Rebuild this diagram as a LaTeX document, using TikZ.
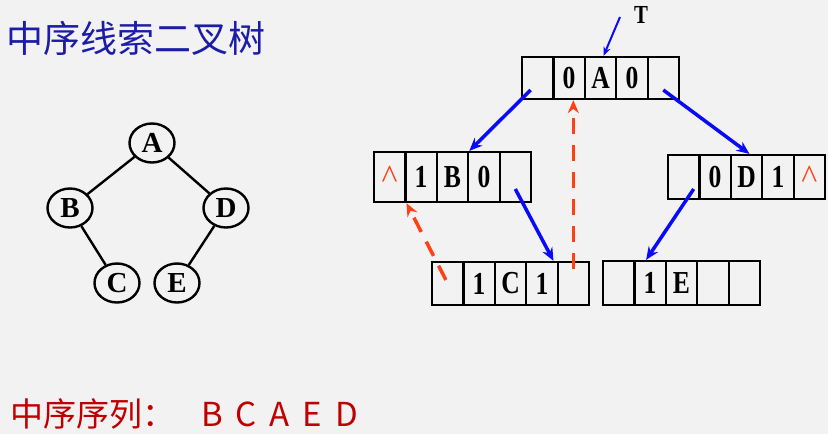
\documentclass[tikz,border=0pt]{standalone}
\usepackage{fontspec}
\setmainfont{Liberation Serif}
\newfontfamily\cjk{Noto Sans CJK SC}
\newfontfamily\cellfont[FakeStretch=0.8]{Liberation Serif Bold}
\usetikzlibrary{shapes.geometric,arrows.meta}
\definecolor{titleblue}{RGB}{28,28,168}
\definecolor{seqred}{RGB}{192,0,0}
\definecolor{linkblue}{RGB}{10,10,250}
\definecolor{threadred}{RGB}{255,64,20}

\begin{document}
\begin{tikzpicture}[x=1pt,y=-1pt,>={Stealth[length=13pt,width=11pt]},
    tnode/.style={draw,ellipse,line width=2.4pt,minimum width=45pt,minimum height=39pt,inner sep=0pt,font=\bfseries\fontsize{29}{29}\selectfont},
    cell/.style={draw,rectangle,line width=2.2pt,minimum width=31.4pt,minimum height=42pt,inner sep=0pt,font=\cellfont\fontsize{32}{32}\selectfont},
    link/.style={->,color=linkblue,line width=3.5pt},
    thread/.style={->,color=threadred,line width=3.5pt,dash pattern=on 16pt off 11pt}]
    \fill[black!5] (0,0) rectangle (828,434);
    \useasboundingbox (0,0) rectangle (828,434);

    \node[anchor=west,inner sep=0pt,text=titleblue,font=\cjk\fontsize{37}{37}\selectfont] (title) at (6,38.5) {中序线索二叉树};
    \node[anchor=west,inner sep=0pt,text=seqred,font=\cjk\fontsize{33}{33}\selectfont] (seq) at (10,414) {\spaceskip=13pt 中序序列：\ \ B C A E D};

    \node[tnode] (a) at (152,143) {A};
    \node[tnode] (b) at (70,208) {B};
    \node[tnode] (d) at (226,208) {D};
    \node[tnode] (c) at (117,283) {C};
    \node[tnode] (e) at (177,283) {E};
    \draw[line width=2.4pt] (a) -- (b);
    \draw[line width=2.4pt] (a) -- (d);
    \draw[line width=2.4pt] (b) -- (c);
    \draw[line width=2.4pt] (d) -- (e);

    \node[font=\cellfont\fontsize{26}{26}\selectfont] (T) at (641,15) {T};

    \node[cell] (A1) at (537.7,78) {};
    \node[cell] (A2) at (569.1,78) {0};
    \node[cell] (A3) at (600.5,78) {A};
    \node[cell] (A4) at (631.9,78) {0};
    \node[cell] (A5) at (663.3,78) {};

    \node[cell,minimum height=50pt] (B1) at (389.7,177) {\normalfont\fontsize{34}{34}\selectfont\color{threadred}\textasciicircum};
    \node[cell,minimum height=50pt] (B2) at (421.1,177) {1};
    \node[cell,minimum height=50pt] (B3) at (452.5,177) {B};
    \node[cell,minimum height=50pt] (B4) at (483.9,177) {0};
    \node[cell,minimum height=50pt] (B5) at (515.3,177) {};

    \node[cell,minimum height=44pt] (D1) at (683.7,177) {};
    \node[cell,minimum height=44pt] (D2) at (715.1,177) {0};
    \node[cell,minimum height=44pt] (D3) at (746.5,177) {D};
    \node[cell,minimum height=44pt] (D4) at (777.9,177) {1};
    \node[cell,minimum height=44pt] (D5) at (809.3,177) {\normalfont\fontsize{34}{34}\selectfont\color{threadred}\textasciicircum};

    \node[cell,minimum height=43pt] (C1) at (447.7,283.5) {};
    \node[cell,minimum height=43pt] (C2) at (479.1,283.5) {1};
    \node[cell,minimum height=43pt] (C3) at (510.5,283.5) {C};
    \node[cell,minimum height=43pt] (C4) at (541.9,283.5) {1};
    \node[cell,minimum height=43pt] (C5) at (573.3,283.5) {};

    \node[cell,minimum height=44pt] (E1) at (618.7,283) {};
    \node[cell,minimum height=44pt] (E2) at (650.1,283) {1};
    \node[cell,minimum height=44pt] (E3) at (681.5,283) {E};
    \node[cell,minimum height=44pt] (E4) at (712.9,283) {};
    \node[cell,minimum height=44pt] (E5) at (744.3,283) {};

    \draw[->,color=linkblue,line width=2pt,>={Stealth[length=9pt,width=7pt]}] ([shift={(-21pt,-2pt)}]T.center) -- ([xshift=3pt]A3.north);
    \draw[link] ([shift={(-7pt,-12pt)}]A1.center) -- (B3.north east);
    \draw[link] ([yshift=-12pt]A5.center) -- ([xshift=3pt]D3.north);
    \draw[link] ([yshift=-12pt]B5.center) -- ([xshift=-3pt]C5.north west);
    \draw[link] ([shift={(10pt,-12pt)}]D1.center) -- ([xshift=-4pt]E2.north);

   \begin{scope}[thread]
    \draw ([yshift=15pt]C5.center) -- (C5.center |- A2.south);
    \draw[shorten <=4pt] (C1.center) -- (B1.south east);
   \end{scope}
\end{tikzpicture}
\end{document}
